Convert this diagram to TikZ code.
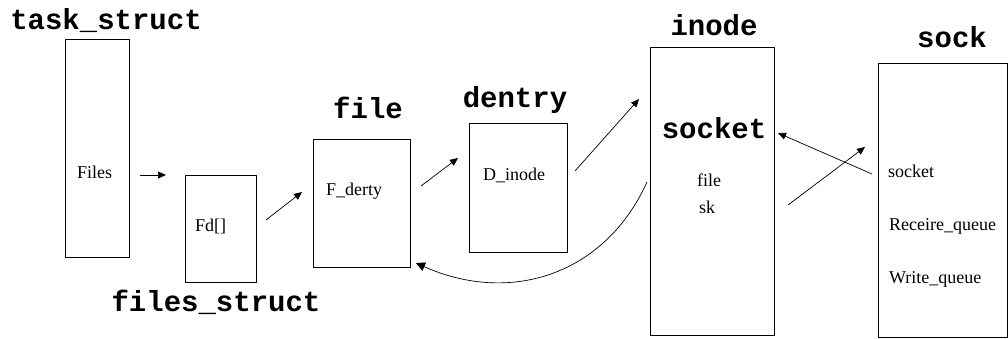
\documentclass[tikz,border=0pt]{standalone}
\usepackage{fontspec}
\setmainfont{Liberation Serif}
\newfontfamily\labelmono{Liberation Mono}
\usetikzlibrary{arrows.meta}
\begin{document}
\begin{tikzpicture}[x=1pt,y=-1pt,
  box/.style={draw, line width=0.9pt, anchor=north west, inner sep=0pt},
  title/.style={font=\labelmono\bfseries\fontsize{29}{29}\selectfont, anchor=base, inner sep=0pt},
  field/.style={font=\fontsize{18}{18}\selectfont, anchor=base west, inner sep=0pt},
  link/.style={line width=0.7pt, -{Triangle[length=8pt,width=7pt]}},
]
\useasboundingbox (0,0) rectangle (1008,338);
% boxes
\node[box, minimum width=64pt, minimum height=218pt] (task) at (65,39) {};
\node[box, minimum width=71pt, minimum height=107pt] (fdbox) at (185,175) {};
\node[box, minimum width=97pt, minimum height=128pt] (filebox) at (313,139) {};
\node[box, minimum width=98pt, minimum height=129pt] (dentrybox) at (469,123) {};
\node[box, minimum width=124pt, minimum height=288pt] (inodebox) at (650,47) {};
\node[box, minimum width=129pt, minimum height=274pt] (sockbox) at (878,63) {};
% titles
\node[title] (tasklbl) at (106,29) {task\_struct};
\node[title] (fslbl) at (216,311) {files\_struct};
\node[title] (filelbl) at (368,118) {file};
\node[title] (dentrylbl) at (515,107) {dentry};
\node[title] (inodelbl) at (714,35) {inode};
\node[title] (socketlbl) at (714,138) {socket};
\node[title] (socklbl) at (952,47) {sock};
% fields
\node[field] (files) at (77,178) {Files};
\node[field] (fd) at (195,231) {Fd[]};
\node[field] (fdenty) at (326,195) {F\_derty};
\node[field] (dinode) at (483,180) {D\_inode};
\node[field] (ifile) at (697,186) {file};
\node[field] (isk) at (699,213) {sk};
\node[field] (ssocket) at (888,177) {socket};
\node[field] (srecv) at (889,230) {Receire\_queue};
\node[field] (swrite) at (889,283) {Write\_queue};
% connector end points
\coordinate (a1s) at (140,175); \coordinate (a1e) at (166,175);
\coordinate (a2s) at (266,220); \coordinate (a2e) at (302,192);
\coordinate (a3s) at (421,186); \coordinate (a3e) at (458,158);
\coordinate (a4s) at (575,171); \coordinate (a4e) at (639,99);
\coordinate (a5s) at (647,182); \coordinate (a5e) at (416,263);
\coordinate (a6s) at (872,174); \coordinate (a6e) at (778,133);
\coordinate (a7s) at (788,205); \coordinate (a7e) at (865,147);
% connectors
\draw[link] (a1s) -- (a1e);
\draw[link] (a2s) -- (a2e);
\draw[link] (a3s) -- (a3e);
\draw[link] (a4s) -- (a4e);
\draw[link, -{Triangle[length=9pt,width=9pt]}] (a5s) .. controls (605,275) and (510,305) .. (a5e);
\draw[link] (a6s) -- (a6e);
\draw[link] (a7s) -- (a7e);
\end{tikzpicture}
\end{document}
